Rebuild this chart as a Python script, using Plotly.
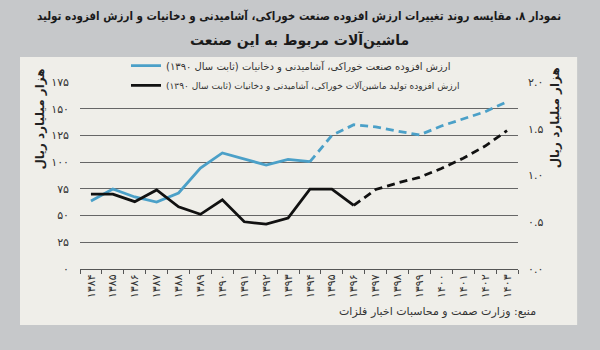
import plotly.graph_objects as go

years = ["۱۳۸۴", "۱۳۸۵", "۱۳۸۶", "۱۳۸۷", "۱۳۸۸", "۱۳۸۹", "۱۳۹۰", "۱۳۹۱", "۱۳۹۲", "۱۳۹۳",
         "۱۳۹۴", "۱۳۹۵", "۱۳۹۶", "۱۳۹۷", "۱۳۹۸", "۱۳۹۹", "۱۴۰۰", "۱۴۰۱", "۱۴۰۲", "۱۴۰۳"]

# value added, food/beverage/tobacco industry (thousand billion rials, left axis)
industry = [63.6, 74.9, 67.4, 62.7, 71.1, 94.5, 108.6, 102.9, 97.3, 102.6,
            100.4, 125.0, 135.0, 133.0, 129.0, 125.4, 133.8, 140.5, 147.2, 156.6]
industry_solid_end = 10  # index of last solid point (1394)

# value added, machinery production for this industry (thousand billion rials, right axis)
machinery = [0.80, 0.80, 0.72, 0.845, 0.665, 0.585, 0.74, 0.505, 0.48, 0.545,
             0.855, 0.855, 0.68, 0.85, 0.92, 0.98, 1.075, 1.185, 1.315, 1.48]
machinery_solid_end = 12  # index of last solid point (1396)

left_ticks = [0, 25, 50, 75, 100, 125, 150, 175]
left_labels = ["۰", "۲۵", "۵۰", "۷۵", "۱۰۰", "۱۲۵", "۱۵۰", "۱۷۵"]
right_ticks = [0, 0.5, 1.0, 1.5, 2.0]
right_labels = ["۰.۰", "۰.۵", "۱.۰", "۱.۵", "۲.۰"]

RLM = "\u200f"
name_industry = "ارزش افزوده صنعت خوراکی، آشامیدنی و دخانیات (ثابت سال ۱۳۹۰)" + RLM
name_machinery = "ارزش افزوده تولید ماشین‌آلات خوراکی، آشامیدنی و دخانیات (ثابت سال ۱۳۹۰)" + RLM
title_l1 = "نمودار ۸. مقایسه روند تغییرات ارزش افزوده صنعت خوراکی، آشامیدنی و دخانیات و ارزش افزوده تولید"
title_l2 = "ماشین‌آلات مربوط به این صنعت"
axis_title = "هزار میلیارد ریال"
source = "منبع: وزارت صمت و محاسبات اخبار فلزات"

BLUE = "#4ba0c8"
BLACK = "#111111"
FONT = "DejaVu Sans"

fig = go.Figure()
i = industry_solid_end
fig.add_trace(go.Scatter(x=years[:i + 1], y=industry[:i + 1], mode="lines", name=name_industry,
                         legend="legend", line=dict(color=BLUE, width=2.8)))
fig.add_trace(go.Scatter(x=years[i:], y=industry[i:], mode="lines", showlegend=False,
                         line=dict(color=BLUE, width=2.8, dash="8px,5px")))
j = machinery_solid_end
fig.add_trace(go.Scatter(x=years[:j + 1], y=machinery[:j + 1], mode="lines", name=name_machinery,
                         legend="legend2", yaxis="y2", line=dict(color=BLACK, width=2.8)))
fig.add_trace(go.Scatter(x=years[j:], y=machinery[j:], mode="lines", showlegend=False,
                         yaxis="y2", line=dict(color=BLACK, width=2.8, dash="8px,5px")))

# light panel behind the chart
fig.add_shape(type="rect", xref="paper", yref="paper", x0=-0.137, x1=1.135, y0=-0.30, y1=1.134,
              fillcolor="#efeee9", line=dict(width=0), layer="below")

fig.add_annotation(text=title_l1, xref="paper", yref="paper", x=0.5, y=1.35, showarrow=False,
                   font=dict(family="DejaVu Sans Condensed", size=11.5, color="#1a1a1a", weight="bold"),
                   xanchor="center", yanchor="middle")
fig.add_annotation(text=title_l2, xref="paper", yref="paper", x=0.5, y=1.225, showarrow=False,
                   font=dict(family="DejaVu Sans", size=14, color="#1a1a1a", weight="bold"),
                   xanchor="center", yanchor="middle")
fig.add_annotation(text=axis_title, xref="paper", yref="paper", x=-0.091, y=0.8, showarrow=False,
                   textangle=-90, font=dict(family=FONT, size=12, color="#222", weight="bold"),
                   xanchor="center", yanchor="middle")
fig.add_annotation(text=axis_title, xref="paper", yref="paper", x=1.084, y=0.81, showarrow=False,
                   textangle=-90, font=dict(family=FONT, size=12, color="#222", weight="bold"),
                   xanchor="center", yanchor="middle")
fig.add_annotation(text=source, xref="paper", yref="paper", x=1.045, y=-0.228, showarrow=False,
                   font=dict(family=FONT, size=11, color="#333"), xanchor="right", yanchor="middle")

fig.update_layout(
    width=600, height=350,
    margin=dict(l=80, r=82, t=82, b=81),
    paper_bgcolor="#c6c8ca",
    plot_bgcolor="rgba(0,0,0,0)",
    font=dict(family=FONT, size=11, color="#333"),
    showlegend=True,
    legend=dict(x=0.105, y=1.165, xanchor="left", yanchor="top", bgcolor="rgba(0,0,0,0)",
                font=dict(family=FONT, size=10, color="#333"), itemwidth=30),
    legend2=dict(x=0.105, y=1.06, xanchor="left", yanchor="top", bgcolor="rgba(0,0,0,0)",
                 font=dict(family=FONT, size=9, color="#333"), itemwidth=30),
    xaxis=dict(type="category", categoryorder="array", categoryarray=years,
               showgrid=False, showline=True, linecolor="#555", linewidth=1,
               ticks="outside", ticklen=4, tickcolor="#555", tickson="boundaries",
               tickangle=-90, tickfont=dict(family=FONT, size=11, color="#333"),
               range=[-0.5, len(years) - 0.5]),
    yaxis=dict(range=[0, 175], tickvals=left_ticks, ticktext=left_labels,
               showgrid=True, gridcolor="#666666", gridwidth=1.4, zeroline=False,
               showline=False, ticks="", ticklabelstandoff=10,
               tickfont=dict(family=FONT, size=11, color="#333")),
    yaxis2=dict(range=[0, 2.0], tickvals=right_ticks, ticktext=right_labels,
                overlaying="y", side="right", showgrid=False, zeroline=False,
                showline=False, ticks="", ticklabelstandoff=9,
                tickfont=dict(family=FONT, size=11, color="#333")),
)

fig.write_html("out.html")
